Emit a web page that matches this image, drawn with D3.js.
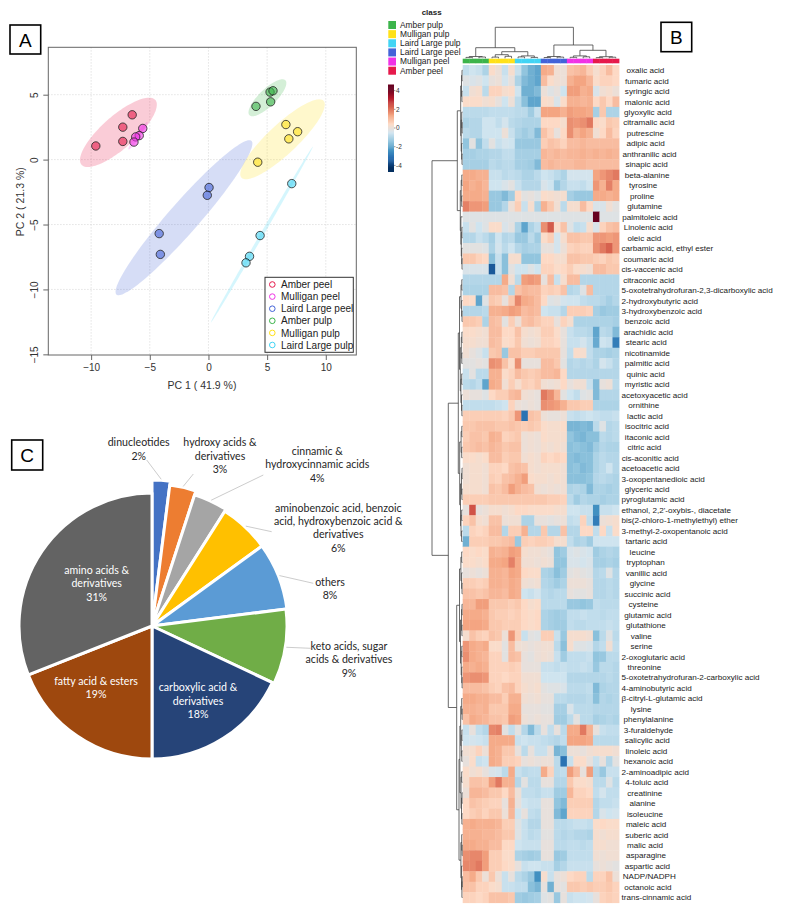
<!DOCTYPE html>
<html><head><meta charset="utf-8">
<script src="https://cdn.jsdelivr.net/npm/d3@7"></script>
<style>body{margin:0;background:#fff}svg{display:block}</style>
</head><body>
<svg id="fig" width="792" height="915"></svg>
<script>
// ================= DATA =================
// Panel A: PCA scores
const groupNames = ["Amber peel","Mulligan peel","Laird Large peel","Amber pulp","Mulligan pulp","Laird Large pulp"];
const sampleGroup = [0,0,0,0, 1,1,1,1, 2,2,2,2, 3,3,3,3, 4,4,4,4, 5,5,5,5];
const samplePC1 = [-9.6,-7.3,-6.5,-7.3, -5.6,-5.9,-6.2,-6.35, 0.05,-0.1,-4.2,-4.1, 4.05,5.3,5.25,5.5, 6.6,7.6,6.85,4.2, 7.1,4.4,3.5,3.2];
const samplePC2 = [1.05,2.5,3.45,1.4, 2.4,1.85,1.75,1.35, -2.15,-2.75,-5.7,-7.3, 4.1,4.45,5.2,5.3, 2.7,2.15,1.6,-0.2, -1.85,-5.85,-7.45,-7.95];
const pcaTicksX = [-10,-5,0,5,10];
const pcaTicksY = [5,0,-5,-10,-15];
const pc1Label = "PC 1 ( 41.9 %)";
const pc2Label = "PC 2 ( 21.3 %)";

// Panel B: heatmap
const hmClasses = ["Amber pulp","Mulligan pulp","Laird Large pulp","Laird Large peel","Mulligan peel","Amber peel"];
const hmColClass = [0,0,0,0, 1,1,1,1, 2,2,2,2, 3,3,3,3, 4,4,4,4, 5,5,5,5];
const colorbarTicks = [4,2,0,-2,-4];
const metabolites = ["oxalic acid","fumaric acid","syringic acid","malonic acid","glyoxylic acid","citramalic acid","putrescine","adipic acid","anthranilic acid","sinapic acid","beta-alanine","tyrosine","proline","glutamine","palmitoleic acid","Linolenic acid","oleic acid","carbamic acid, ethyl ester","coumaric acid","cis-vaccenic acid","citraconic acid","5-oxotetrahydrofuran-2,3-dicarboxylic acid","2-hydroxybutyric acid","3-hydroxybenzoic acid","benzoic acid","arachidic acid","stearic acid","nicotinamide","palmitic acid","quinic acid","myristic acid","acetoxyacetic acid","ornithine","lactic acid","isocitric acid","itaconic acid","citric acid","cis-aconitic acid","acetoacetic acid","3-oxopentanedioic acid","glyceric acid","pyroglutamic acid","ethanol, 2,2'-oxybis-, diacetate","bis(2-chloro-1-methylethyl) ether","3-methyl-2-oxopentanoic acid","tartaric acid","leucine","tryptophan","vanillic acid","glycine","succinic acid","cysteine","glutamic acid","glutathione","valine","serine","2-oxoglutaric acid","threonine","5-oxotetrahydrofuran-2-carboxylic acid","4-aminobutyric acid","β-citryl-L-glutamic acid","lysine","phenylalanine","3-furaldehyde","salicylic acid","linoleic acid","hexanoic acid","2-aminoadipic acid","4-toluic acid","creatinine","alanine","isoleucine","maleic acid","suberic acid","malic acid","asparagine","aspartic acid","NADP/NADPH","octanoic acid","trans-cinnamic acid"];
const heatValues = [
[-0.7,-0.5,-0.6,-1.0, 0.4,0.1,-0.6,0.3, -0.6,-1.4,-1.8,-2.0, 1.3,1.2,0.2,0.1, 0.9,1.0,1.1,0.7, 0.3,0.6,1.0,0.5],
[-0.2,-0.3,-0.2,-0.5, 0.0,0.1,-0.4,0.0, -1.0,-1.6,-1.8,-2.0, 1.0,0.4,0.2,0.1, 1.2,1.4,1.4,1.1, 0.4,0.6,0.6,0.5],
[-0.6,0.2,0.3,-0.8, 0.6,0.6,0.3,0.4, -0.5,-1.8,-1.8,-1.6, 0.1,-0.2,0.0,-0.5, 1.5,1.5,1.2,1.3, -0.3,0.2,0.3,0.1],
[0.4,0.4,0.4,0.2, 0.3,0.0,-0.5,0.1, -0.8,-1.5,-2.0,-2.0, 0.4,0.3,-0.3,0.4, 1.2,1.2,1.1,1.2, 0.5,0.8,0.5,1.0],
[-0.8,-0.8,-0.8,-0.8, -0.7,-0.7,-0.7,-0.7, -0.8,-0.8,-1.2,-0.6, 1.4,1.4,1.4,1.2, 1.5,1.4,1.4,1.3, -1.1,0.8,-1.0,-1.0],
[-1.0,-0.9,-0.9,-0.5, -0.5,-0.7,-0.4,-0.8, -0.9,-1.0,-1.0,-1.0, 0.5,0.5,0.5,0.3, 1.7,1.6,1.7,2.0, 0.5,0.4,0.8,0.7],
[-0.8,-0.9,-0.9,-0.5, -0.5,-0.5,0.1,-0.6, -1.0,-1.2,-1.0,-1.6, 0.9,0.6,0.0,0.5, 1.7,1.2,1.4,1.2, 0.2,0.5,1.0,0.6],
[-1.4,-0.1,-1.4,-0.7, -0.1,-0.6,-0.4,-0.5, -1.3,-1.3,-1.3,-1.3, 0.7,0.9,0.8,0.6, 1.0,1.0,1.1,1.0, 1.0,1.0,1.0,1.0],
[-1.1,-1.1,-1.0,-1.0, -0.9,-0.9,-0.7,-0.7, -1.1,-1.1,-1.1,-1.1, 1.1,1.0,1.1,1.0, 1.1,1.1,1.2,1.1, 1.2,1.1,1.2,1.1],
[-1.1,-1.1,-1.1,-1.1, -0.8,-0.9,-0.8,-0.8, -1.1,-1.1,-1.2,-1.6, 1.0,1.1,1.0,1.0, 1.0,1.1,1.1,1.0, 1.0,1.0,1.0,1.0],
[1.3,1.3,1.2,1.2, -0.6,-0.6,-0.8,-0.7, -0.8,-1.0,-1.0,-0.8, -0.5,-0.6,-0.8,-1.0, -0.4,-0.4,-0.4,-0.4, 1.4,1.6,1.8,2.0],
[1.4,1.2,1.3,1.1, -0.5,-0.5,-0.3,-0.1, -0.6,-0.9,-0.9,-0.9, -0.3,-0.5,-1.3,-0.9, -0.6,-0.6,-0.7,-0.5, 1.6,1.2,1.9,1.3],
[1.3,1.3,1.3,1.2, -1.3,-1.3,-1.6,-1.2, 0.5,-0.1,0.0,-0.2, 0.4,0.3,0.2,0.3, -1.1,-1.3,-1.3,-1.3, 1.3,1.3,1.2,1.3],
[1.9,1.6,1.6,1.5, -1.3,-1.3,-0.9,0.1, 0.7,-0.6,0.3,-1.0, 1.2,0.8,0.2,-0.8, 0.3,0.3,1.0,0.5, -0.3,-0.3,0.2,-0.1],
[-0.2,-0.2,-0.2,-0.2, -0.2,-0.2,-0.2,-0.2, -0.2,-0.2,-0.2,-0.2, -0.2,-0.2,-0.2,-0.2, -0.2,-0.2,-0.2,-0.2, 4.6,-0.2,-0.2,-0.2],
[-0.6,-0.1,-0.5,-0.2, 0.4,0.4,-0.3,-0.1, -1.0,-2.0,-1.0,-0.7, 1.7,2.4,0.4,0.9, -0.2,-0.7,-0.6,0.3, -0.3,0.6,0.9,1.0],
[-0.9,-0.9,-0.6,-0.8, -1.1,-0.5,-0.9,-0.8, -1.3,-1.3,-0.8,-1.2, 0.4,0.7,-0.4,0.3, 0.9,0.9,0.8,0.8, 1.6,1.6,1.5,1.6],
[-0.1,-0.1,-0.1,-0.2, -1.0,-0.4,-0.8,-0.5, -0.9,-1.1,-1.0,-1.0, 0.0,0.0,-0.4,0.1, 0.6,0.7,0.6,0.6, 1.7,2.0,2.3,1.6],
[0.8,0.8,0.6,0.5, -1.5,-0.6,-1.5,0.3, 0.3,-1.4,-1.4,-1.4, 0.5,0.5,0.3,0.3, 0.9,0.9,0.8,0.8, 0.7,0.6,0.8,0.7],
[-0.3,-0.3,-0.3,-0.3, -3.5,-0.6,-1.5,-0.1, -0.5,-0.5,-0.2,-0.5, 0.6,0.6,0.4,0.5, 0.7,0.4,0.3,0.2, 1.0,1.0,0.8,0.8],
[-0.9,-0.9,-0.9,-0.9, -0.9,-0.9,1.3,0.2, -0.8,1.5,1.6,1.5, 0.0,1.0,-0.6,0.3, 1.0,1.0,-0.9,-0.9, -0.9,-0.9,-0.9,-0.9],
[-1.0,-1.0,-1.0,-1.0, 1.0,1.0,0.9,-0.9, 0.9,1.1,1.0,1.0, 0.6,0.7,0.6,0.9, -0.9,-0.8,-0.2,1.0, -0.9,-0.9,-0.9,-0.9],
[0.5,0.4,-2.0,-0.2, 0.8,0.7,0.0,0.8, 1.8,1.3,1.2,1.0, 0.5,-0.2,-0.1,-0.4, -0.5,-0.5,-0.7,-0.8, -0.8,-0.9,-1.1,-0.9],
[-0.9,-0.9,-0.9,-0.8, 1.2,1.2,1.3,1.5, 1.4,1.0,1.1,1.0, -0.5,-0.6,-0.6,-0.9, 0.7,0.7,0.7,0.6, -1.1,-1.3,-1.2,-1.2],
[0.8,0.8,0.7,-1.0, 1.0,0.9,-0.1,0.7, 0.1,0.9,1.0,0.8, 0.6,0.6,0.0,0.6, 0.3,-1.0,-1.0,-1.0, -1.0,-1.0,-1.0,-1.1],
[0.4,0.4,0.3,0.2, 1.0,1.0,0.5,0.5, 0.9,0.3,0.2,0.3, 0.7,0.7,0.4,0.0, -0.6,-0.8,-0.8,-0.9, -2.0,-0.8,-0.9,-1.6],
[0.3,0.3,0.2,0.2, 1.0,0.9,0.4,0.5, 0.8,0.2,0.1,0.2, 0.6,0.6,0.5,0.0, -0.6,-0.6,-0.4,-0.7, -1.9,-0.5,-0.6,-2.8],
[0.2,0.0,-0.2,-0.6, 0.8,0.9,-1.3,0.9, 0.9,0.7,0.7,0.8, 0.8,0.8,0.8,0.0, -0.7,0.4,0.3,-0.7, -1.0,-1.0,-1.1,-1.0],
[-0.1,-0.1,0.0,-0.1, 1.7,1.6,0.9,0.4, 1.7,0.0,0.0,0.0, 1.0,1.0,0.8,-0.1, -0.9,-0.8,-0.9,-0.8, -1.0,-0.4,-0.6,-0.9],
[-0.6,-0.1,-0.8,-0.8, 1.2,1.2,0.4,0.6, 1.0,0.8,0.7,0.8, 1.0,1.0,1.1,0.5, -0.9,-0.9,-0.9,-0.9, -0.9,-0.9,-0.9,-0.9],
[-0.8,-0.9,-0.7,-2.0, 1.3,1.2,0.2,0.7, 0.3,0.7,0.6,0.8, 0.2,0.1,0.2,0.5, 0.0,0.2,0.2,-0.6, -1.6,0.0,0.1,-0.8],
[0.1,0.0,0.0,-0.2, 0.5,0.7,0.7,1.0, 1.1,0.2,0.1,0.0, 2.0,1.7,1.1,-0.1, -0.5,-0.7,-0.2,-0.1, -1.6,-0.9,-0.9,-0.9],
[-0.7,-0.7,-0.7,-0.7, -0.7,-0.6,-0.5,0.6, 0.1,0.0,0.1,0.0, 1.7,1.6,1.5,1.2, 0.8,0.8,0.7,0.7, -1.0,-1.0,-1.0,-1.0],
[0.7,0.7,0.7,0.7, 0.7,0.7,0.6,0.8, 1.6,-3.0,0.9,0.8, 0.1,0.0,0.0,0.1, -0.6,-0.7,-0.6,-0.5, -0.6,-0.7,-0.7,-0.6],
[0.8,0.8,0.9,0.9, 0.9,0.8,0.8,0.9, 0.8,0.7,0.8,0.7, 0.4,0.3,0.3,0.4, -1.7,-1.7,-1.6,-1.7, -0.8,-0.2,-0.9,-0.8],
[0.7,0.9,0.9,0.8, 1.2,1.1,0.6,0.7, 0.8,0.1,0.2,0.1, 0.4,0.3,0.3,0.3, -1.4,-1.6,-1.7,-1.5, -1.5,-0.8,-0.9,-0.8],
[0.8,0.9,1.0,0.9, 1.1,1.0,0.8,0.9, 0.9,0.1,0.2,0.1, 0.3,0.2,0.3,0.2, -1.5,-1.4,-1.5,-1.6, -1.2,-0.9,-1.0,-1.0],
[0.4,0.4,0.3,0.4, 1.0,1.0,0.7,0.8, 0.8,0.2,0.3,0.2, 0.6,0.5,0.6,0.5, -1.5,-1.6,-1.5,-1.5, -1.0,-0.8,-0.9,-0.9],
[0.2,0.3,0.3,0.2, 0.6,0.6,0.5,0.9, 1.0,0.9,0.3,0.2, 0.3,0.3,0.3,0.2, -1.5,-1.4,-1.6,-1.5, -1.0,-0.8,-0.5,-0.9],
[0.2,0.3,0.3,0.2, 0.7,0.6,0.9,1.0, 1.2,1.5,0.4,0.3, 0.3,0.2,0.3,0.2, -1.5,-1.5,-1.5,-1.4, -0.9,-0.8,-0.9,-1.0],
[0.3,0.3,0.3,0.2, 0.9,0.8,1.0,1.5, 1.2,1.0,0.9,0.2, 0.1,0.2,0.1,0.2, -1.0,-0.9,-1.0,-1.6, -1.0,-1.0,-1.1,-1.0],
[0.7,0.7,0.7,0.7, 0.8,0.8,0.8,0.8, 0.8,0.8,0.8,0.8, 0.8,0.7,0.7,0.6, -0.8,-1.2,-0.9,-1.0, -1.0,-1.1,-1.0,-1.0],
[0.0,2.5,0.0,0.1, 0.3,0.3,0.2,0.3, 0.5,0.5,0.4,0.4, 0.4,0.4,0.3,0.3, -0.5,-0.5,-0.6,-0.6, -2.4,-0.6,-0.6,-0.5],
[0.6,0.9,0.3,0.2, 0.9,0.9,0.1,0.2, 0.2,-1.0,-1.0,0.0, 0.0,-0.1,0.0,0.1, -0.7,-0.6,0.6,-0.7, -2.8,0.1,0.2,0.3],
[-0.8,0.6,0.5,0.6, 1.0,1.0,-0.9,0.7, 0.7,1.2,-0.9,-0.9, 0.8,-0.9,-0.9,0.9, -0.9,-0.9,0.5,0.5, -0.7,0.5,-0.6,0.4],
[-1.8,0.7,0.7,0.7, 0.8,0.8,0.9,1.0, -1.3,0.7,0.6,0.7, 0.7,0.6,0.3,0.3, -0.7,-1.0,-0.9,-1.2, -0.5,-0.5,-0.5,-0.5],
[0.5,0.4,0.5,0.4, 1.2,1.1,1.2,1.5, 1.4,0.3,0.2,0.2, 0.1,0.0,-1.4,-1.2, -0.3,-0.2,-0.3,-0.4, -1.2,-1.0,-0.9,-1.0],
[0.4,0.4,0.3,0.4, 1.3,1.3,1.4,1.9, 1.3,0.2,0.2,0.1, 0.2,0.1,-1.4,-1.4, -0.3,-0.3,-0.4,-0.3, -1.1,-1.1,-1.0,-1.1],
[0.0,0.1,0.0,0.1, 1.2,1.2,1.1,1.4, 1.3,0.5,0.4,0.4, -1.0,-1.1,-1.5,-1.2, -0.1,0.0,-0.1,-0.2, -0.9,-0.8,-0.2,-0.9],
[0.7,0.7,0.6,0.7, 1.2,1.2,1.1,1.3, 1.2,0.2,0.1,0.2, -0.9,-1.0,-1.2,-1.0, 0.1,0.1,0.1,0.0, -0.9,-0.9,-0.8,-0.9],
[0.9,0.9,0.8,0.9, 1.1,1.1,1.0,1.3, 1.2,-0.5,-0.6,-0.4, -0.8,-0.9,-0.8,-0.8, 0.0,-0.1,-0.1,0.0, -0.9,-0.9,-0.8,-0.9],
[1.1,1.1,1.5,1.5, 0.8,0.8,0.8,0.7, 0.8,0.5,0.3,0.4, -0.8,-0.8,-0.8,-0.8, -1.3,-1.3,-1.4,-1.3, -0.7,-0.8,-0.8,-0.8],
[1.3,1.3,1.3,1.2, 0.8,0.7,0.7,0.6, 0.7,0.5,0.4,0.5, -1.0,-1.1,-1.2,-1.1, -0.7,-0.7,-0.6,-0.7, -0.7,-0.8,-0.7,-0.7],
[1.4,1.4,1.4,1.3, 0.8,0.8,0.7,0.7, 0.7,0.5,0.4,0.5, -1.0,-1.1,-1.2,-1.2, -0.7,-0.8,-0.8,-0.7, -0.7,-0.7,-0.6,-0.7],
[0.3,0.9,0.7,0.6, 0.9,0.8,0.1,1.6, 0.7,-0.6,-0.1,-0.2, 0.7,0.7,-0.6,-1.3, 0.3,0.3,0.3,0.2, -1.5,-0.8,-0.2,-0.8],
[1.6,1.3,1.2,1.3, 0.4,0.4,-0.1,1.0, 0.2,0.1,0.0,0.1, 0.2,0.2,-0.8,-1.5, 0.3,-0.2,-0.2,-0.3, -0.9,-0.7,0.2,-0.7],
[1.7,1.3,1.2,1.1, 0.6,0.6,-0.1,1.0, 0.9,0.0,-0.1,0.1, 0.2,0.1,-0.6,-1.2, -0.7,-0.7,-0.7,-0.6, -1.4,-1.3,-0.8,-0.8],
[1.3,1.2,1.3,1.2, 0.6,0.6,0.6,0.7, 0.6,0.0,0.0,0.0, -0.6,-0.6,-0.7,-0.6, -0.7,-0.7,-0.6,-0.7, -1.3,-0.8,-0.8,-0.9],
[1.6,1.7,1.7,1.6, 0.6,0.6,0.5,0.6, 0.6,0.2,0.2,0.2, -0.5,-0.5,-0.5,-0.5, -0.9,-0.9,-0.9,-0.9, -0.9,-0.9,-0.8,-0.9],
[1.0,1.0,1.0,0.9, 0.7,0.6,0.9,1.0, 0.6,0.3,0.2,0.3, -0.1,-0.2,-0.2,-0.3, -0.8,-0.8,-0.8,-0.7, -1.6,-1.0,-0.9,-0.9],
[1.3,1.3,1.2,1.2, 1.0,1.0,0.7,1.2, 1.2,0.2,0.1,0.2, 0.0,0.0,-0.8,-0.8, -0.9,-0.9,-0.9,-0.8, -1.5,-0.9,-1.0,-0.9],
[1.2,1.2,1.1,1.2, 0.8,0.8,0.8,1.3, 1.3,0.0,0.0,0.0, -0.1,-0.1,-1.1,-1.1, -0.3,-0.8,-0.8,-0.8, -0.9,-0.9,-0.9,-0.9],
[0.9,1.3,1.2,1.1, 0.9,0.9,0.8,1.5, 1.4,0.1,0.0,0.1, 0.0,0.0,-1.2,-1.2, -0.8,-0.1,-0.8,-0.8, -1.1,-1.0,-0.9,-1.0],
[-0.6,0.0,-0.7,-0.9, 1.8,1.9,-0.1,-0.7, -0.1,-0.9,-1.6,-0.8, 0.0,-0.7,0.0,-0.8, 1.3,1.3,2.0,1.2, 0.0,-0.6,-0.7,-0.7],
[-0.5,-0.4,-0.5,-0.6, 1.3,1.3,1.3,1.3, -0.6,-0.5,-0.6,-0.6, -0.7,-0.8,-0.9,-0.7, 1.4,1.4,1.4,1.3, -0.8,-0.8,-0.8,-0.8],
[0.2,0.3,0.6,0.1, 1.3,1.2,0.8,0.8, 0.0,-0.8,0.0,-0.6, -0.6,0.0,-1.7,-1.5, 0.1,0.1,0.0,0.2, 0.3,0.3,0.3,0.2],
[0.0,0.4,-0.6,-0.5, 1.3,1.2,0.7,0.7, 0.6,0.0,0.1,0.0, 0.1,0.1,-0.8,-3.0, -0.6,0.4,0.4,0.0, -0.6,0.0,-0.9,-0.1],
[0.4,0.2,0.3,0.0, -0.3,-0.4,-0.8,1.3, -0.6,-0.8,-0.7,-0.7, 1.3,0.6,-0.8,-0.7, 1.5,1.0,0.0,1.5, -0.9,-1.3,-0.6,-0.6],
[0.3,0.9,0.9,0.8, 1.5,2.0,1.2,1.2, -0.9,-0.1,-0.8,-0.8, 0.0,0.0,-0.9,-0.9, 0.8,0.4,0.4,0.3, -0.8,-0.8,-0.2,-0.8],
[0.1,1.1,1.1,1.0, 0.8,0.8,0.5,1.0, 0.1,-0.7,-0.7,-0.8, -0.6,-0.6,-1.2,-1.2, 1.1,0.6,0.6,0.5, -0.7,-0.4,-0.7,-0.7],
[0.5,0.9,0.8,0.7, 0.6,0.6,0.0,1.2, 0.0,-0.5,-0.6,-0.6, 0.0,0.0,-1.4,-1.6, 0.7,0.7,0.7,0.7, -0.9,-0.7,-0.7,-0.6],
[0.5,0.7,0.8,0.6, 0.8,0.8,0.1,1.1, -0.5,0.0,-0.7,-0.8, 0.0,0.0,-1.6,-2.0, 0.6,0.6,0.6,0.6, -0.9,-0.3,-0.5,-0.4],
[1.2,1.3,1.2,1.2, 1.2,1.1,0.7,0.7, -0.2,-0.6,-0.9,-0.9, 0.0,0.0,-0.8,-0.8, -0.7,-0.6,-0.6,-0.7, 0.4,0.5,0.4,0.4],
[1.2,1.2,1.2,1.1, 1.1,1.0,0.8,0.8, -0.2,-0.6,-0.8,-0.7, -0.1,-0.1,-0.8,-0.9, -0.8,-0.9,-0.9,-1.0, 0.3,0.2,0.3,0.3],
[1.3,1.3,1.2,1.2, 1.0,1.0,0.5,0.5, -0.5,-0.6,-0.6,-0.6, 0.0,0.0,-0.8,-0.8, -0.7,-0.7,-0.8,-0.7, 0.3,0.3,0.2,0.2],
[1.7,1.8,1.8,1.5, 0.7,0.7,0.4,0.4, -1.0,-1.1,-1.2,-1.1, 0.0,0.0,-1.3,-1.2, -0.7,-0.7,-0.7,-0.7, 0.2,0.1,0.2,0.2],
[1.8,1.8,2.0,1.5, 0.7,0.7,0.5,0.4, 0.0,-0.6,-0.5,-0.5, -0.6,-0.6,-1.1,-0.9, -0.6,-0.6,-0.6,-0.6, 0.0,0.1,0.0,-0.1],
[1.0,1.3,0.8,0.1, 0.8,0.1,-0.6,0.0, -0.8,-1.0,-1.3,-2.4, 0.3,-0.6,0.0,0.1, 0.5,0.6,0.6,-0.8, 0.6,0.6,0.9,0.1],
[0.9,0.9,0.6,0.6, 0.4,0.3,-0.6,-0.6, -0.7,-0.7,-1.5,-1.7, 0.0,-1.8,0.0,-0.1, 0.8,0.8,0.7,0.8, 0.7,0.7,0.8,0.6],
[0.6,0.6,0.5,0.6, 0.9,0.9,0.9,0.8, -1.2,-1.3,-1.2,-1.1, -0.2,-0.1,-1.3,0.0, -0.6,-0.5,-0.5,-0.4, 0.0,0.6,0.7,0.6]
];
// dendrograms: node = [mergeHeight, left, right], leaf = column / row index
const colDendro = [31,
  [10.6, [1.8,[0.9,0,1],[1.3,2,3]], [6.6, [3.6,[1.2,4,5],[2.0,6,7]], [2.4,[1.4,8,9],[0.9,10,11]]]],
  [13.3, [1.8,[0.8,12,13],[1.2,14,15]], [8.0, [2.4,[1.0,16,17],[1.5,18,19]], [1.6,[0.7,20,21],[1.1,22,23]]]]
];
const rowDendro = [30.5,
  [5.2,
    [1.8,[1.0,[0.5,0,1],[0.6,2,3]],[1.3,[0.8,4,[0.4,5,6]],[0.9,7,[0.5,8,9]]]],
    [2.2,[1.3,[0.7,10,11],[0.8,12,13]],[1.6,14,[1.2,[0.6,15,16],[0.8,17,[0.5,18,19]]]]]],
  [14.2,
    [4.2,
      [3.0,[1.5,[0.7,20,21],[0.9,22,[0.5,23,24]]],[2.2,[1.2,[0.6,25,26],[0.7,27,28]],[1.6,[0.8,29,30],[1.0,31,[0.6,32,33]]]]],
      [2.8,[1.4,[0.7,34,35],[0.8,36,37]],[2.0,[1.0,[0.5,38,39],[0.6,40,41]],[1.5,[0.8,42,43],[0.9,44,45]]]]],
    [5.8,
      [3.0,[1.6,[0.8,46,47],[0.9,48,[0.5,49,50]]],[2.0,[1.0,[0.5,51,52],[0.6,53,54]],[1.3,[0.7,55,56],[0.8,57,[0.4,58,59]]]]],
      [3.5,
        [2.6,[1.8,[0.8,60,[0.4,61,62]],[1.2,[0.6,63,64],[0.7,65,66]]],[1.5,[0.8,67,68],[1.0,[0.5,69,70],[0.6,71,72]]]],
        [1.6,[0.8,73,[0.4,74,75]],[1.0,76,[0.6,[0.3,77,78],79]]]]]]
];

// Panel C: pie
const pieLabelLines = [["dinucleotides"],["hydroxy acids &","derivatives"],["cinnamic &","hydroxycinnamic acids"],["aminobenzoic acid, benzoic","acid, hydroxybenzoic acid &","derivatives"],["others"],["keto acids, sugar","acids & derivatives"],["carboxylic acid &","derivatives"],["fatty acid & esters"],["amino acids &","derivatives"]];
const piePercents = [2,3,4,6,8,9,18,19,31];

// ================= STYLE / LAYOUT =================
const groupColors = ["#e6194B","#f032e6","#4363d8","#3cb44b","#ffe119","#42d4f4"];
const hmClassColors = ["#3cb44b","#ffe119","#42d4f4","#4363d8","#f032e6","#e6194B"];
const rdbu = ["#053061","#2166ac","#4393c3","#92c5de","#d1e5f0","#fddbc7","#f4a582","#d6604d","#b2182b","#67001f"];
const pieColors = ["#4472C4","#ED7D31","#A5A5A5","#FFC000","#5B9BD5","#70AD47","#264478","#9E480E","#636363"];
const pieRadii = [146,142,138,136,136,135,133,133,133];
const pieLabelPos = [[138.7,442.3],[220,442.3],[317.3,451],[338.3,507.7],[330,581.7],[349,646],[198,687.3],[96,681],[96.7,570]];
const pieInside = [false,false,false,false,false,false,true,true,true];
const pieLeaderEnd = [[146.7,460],[193.3,474],[263.3,475],[271.7,531.7],[313.3,583.3],[310.7,648.3],null,null,null];
const ARIAL = "'Liberation Sans', Arial, sans-serif";
const PIEFONT = "Lato, 'Open Sans', sans-serif";

const svg = d3.select("#fig");

// ---------- panel letter boxes ----------
function letterBox(x, y, w, h, txt) {
  svg.append("rect").attr("x", x).attr("y", y).attr("width", w).attr("height", h)
    .attr("fill", "#fff").attr("stroke", "#000").attr("stroke-width", 1.6);
  svg.append("text").attr("x", x + w / 2).attr("y", y + h / 2 + 7).attr("text-anchor", "middle")
    .attr("font-family", ARIAL).attr("font-size", 19).attr("fill", "#000").text(txt);
}

// ================= PANEL A =================
const xS = d3.scaleLinear().domain([-13.65, 12.6]).range([48.3, 356.3]);
const yS = d3.scaleLinear().domain([-15.05, 8.65]).range([355, 47.3]);
const gA = svg.append("g");
gA.selectAll("line.gx").data(pcaTicksX).join("line")
  .attr("x1", d => xS(d)).attr("x2", d => xS(d)).attr("y1", 47.3).attr("y2", 355)
  .attr("stroke", "#d4d4d4").attr("stroke-width", 0.8).attr("stroke-dasharray", "1.2,1.8");
gA.selectAll("line.gy").data(pcaTicksY.filter(d => d > -15)).join("line")
  .attr("y1", d => yS(d)).attr("y2", d => yS(d)).attr("x1", 48.3).attr("x2", 356.3)
  .attr("stroke", "#d4d4d4").attr("stroke-width", 0.8).attr("stroke-dasharray", "1.2,1.8");

// 95% confidence ellipses from each group's scores
const CHI2 = 5.991;
groupNames.forEach((gname, gi) => {
  const idx = sampleGroup.map((g, i) => g === gi ? i : -1).filter(i => i >= 0);
  const xs = idx.map(i => samplePC1[i]), ys = idx.map(i => samplePC2[i]);
  const mx = d3.mean(xs), my = d3.mean(ys), n = xs.length;
  let a = 0, b = 0, c = 0;
  for (let k = 0; k < n; k++) { a += (xs[k]-mx)**2; b += (xs[k]-mx)*(ys[k]-my); c += (ys[k]-my)**2; }
  a /= n-1; b /= n-1; c /= n-1;
  const tr = (a + c) / 2, dd = Math.sqrt(((a - c) / 2) ** 2 + b * b);
  const l1 = tr + dd, l2 = Math.max(tr - dd, 1e-6);
  const th = 0.5 * Math.atan2(2 * b, a - c);
  const r1 = Math.sqrt(CHI2 * l1), r2 = Math.sqrt(CHI2 * l2);
  const pts = d3.range(0, 2 * Math.PI, Math.PI / 60).map(t => {
    const ex = mx + r1 * Math.cos(t) * Math.cos(th) - r2 * Math.sin(t) * Math.sin(th);
    const ey = my + r1 * Math.cos(t) * Math.sin(th) + r2 * Math.sin(t) * Math.cos(th);
    return [xS(ex), yS(ey)];
  });
  gA.append("path").attr("d", d3.line()(pts) + "Z").attr("fill", groupColors[gi]).attr("fill-opacity", 0.22).attr("stroke", "none");
});
gA.selectAll("circle.pt").data(samplePC1.map((v, i) => i)).join("circle")
  .attr("cx", i => xS(samplePC1[i])).attr("cy", i => yS(samplePC2[i])).attr("r", 4.2)
  .attr("fill", i => groupColors[sampleGroup[i]]).attr("fill-opacity", 0.6)
  .attr("stroke", "#222").attr("stroke-width", 0.8);
gA.append("rect").attr("x", 48.3).attr("y", 47.3).attr("width", 308).attr("height", 307.7)
  .attr("fill", "none").attr("stroke", "#666").attr("stroke-width", 1);
const axX = gA.append("g").attr("transform", "translate(0,355)")
  .call(d3.axisBottom(xS).tickValues(pcaTicksX).tickSize(5).tickPadding(4));
axX.select(".domain").remove();
axX.selectAll("line").attr("stroke", "#666");
axX.selectAll("text").attr("font-family", ARIAL).attr("font-size", 10).attr("fill", "#333");
const axY = gA.append("g").attr("transform", "translate(48.3,0)")
  .call(d3.axisLeft(yS).tickValues(pcaTicksY).tickSize(5).tickPadding(4));
axY.select(".domain").remove();
axY.selectAll("line").attr("stroke", "#666");
axY.selectAll("text").attr("font-family", ARIAL).attr("font-size", 10).attr("fill", "#333")
  .attr("text-anchor", "middle").attr("dy", null).attr("x", 0).attr("y", 0)
  .attr("transform", "translate(-10.6,0) rotate(-90)");
gA.append("text").attr("x", 202).attr("y", 389).attr("text-anchor", "middle")
  .attr("font-family", ARIAL).attr("font-size", 10.5).attr("fill", "#333").text(pc1Label);
gA.append("text").attr("transform", "translate(23.5,201.7) rotate(-90)").attr("text-anchor", "middle")
  .attr("font-family", ARIAL).attr("font-size", 10.5).attr("fill", "#333").text(pc2Label);
gA.append("rect").attr("x", 265).attr("y", 277.3).attr("width", 88.3).attr("height", 75)
  .attr("fill", "#fff").attr("stroke", "#333").attr("stroke-width", 1);
const legY = d3.scaleLinear().domain([0, 5]).range([284.5, 345]);
groupNames.forEach((gname, gi) => {
  gA.append("circle").attr("cx", 272.3).attr("cy", legY(gi)).attr("r", 2.8)
    .attr("fill", "none").attr("stroke", groupColors[gi]).attr("stroke-width", 1);
  gA.append("text").attr("x", 281).attr("y", legY(gi) + 3.6).attr("font-family", ARIAL)
    .attr("font-size", 10).attr("fill", "#222").text(gname);
});
letterBox(10, 25, 30.7, 29, "A");

// ================= PANEL B =================
const gB = svg.append("g");
const hx = d3.scaleBand().domain(d3.range(24)).range([462.7, 619]);
const hy = d3.scaleBand().domain(d3.range(80)).range([65, 902.7]);
const colorStops = d3.range(rdbu.length).map(i => -4.2 + i * 8.4 / (rdbu.length - 1));
const hc = d3.scaleLinear().domain(colorStops).range(rdbu).clamp(true);
heatValues.forEach((row, r) => {
  gB.selectAll(null).data(row).join("rect")
    .attr("x", (v, j) => hx(j)).attr("y", hy(r))
    .attr("width", hx.bandwidth() + 0.4).attr("height", hy.bandwidth() + 0.4)
    .attr("fill", v => hc(v));
});
gB.selectAll("rect.cls").data(hmColClass).join("rect")
  .attr("x", (c, j) => hx(j)).attr("y", 58.7).attr("width", hx.bandwidth() + 0.4).attr("height", 4.6)
  .attr("fill", c => hmClassColors[c]);
gB.selectAll("text.rl").data(metabolites).join("text")
  .attr("x", 624.5).attr("y", (d, i) => hy(i) + hy.bandwidth() / 2 + 2.9)
  .attr("font-family", ARIAL).attr("font-size", 8.1).attr("fill", "#222").text(d => d)
  .each(function () {
    const len = this.getComputedTextLength();
    d3.select(this).attr("x", Math.max(621.5, 636 - 0.25 * len));
  });
function drawTree(node, leafPos, hScale, vertical, g) {
  if (typeof node === "number") return [leafPos(node), 0];
  const [h, a, b] = node;
  const A = drawTree(a, leafPos, hScale, vertical, g);
  const B = drawTree(b, leafPos, hScale, vertical, g);
  const d = vertical
    ? `M${A[0]},${hScale(A[1])}V${hScale(h)}H${B[0]}V${hScale(B[1])}`
    : `M${hScale(A[1])},${A[0]}H${hScale(h)}V${B[0]}H${hScale(B[1])}`;
  g.append("path").attr("d", d).attr("fill", "none").attr("stroke", "#444").attr("stroke-width", 0.8);
  return [(A[0] + B[0]) / 2, h];
}
const colH = d3.scaleLinear().domain([0, 31]).range([58.3, 27.3]);
drawTree(colDendro, j => hx(j) + hx.bandwidth() / 2, colH, true, gB);
const rowH = d3.scaleLinear().domain([0, 30.5]).range([462.5, 432]);
drawTree(rowDendro, i => hy(i) + hy.bandwidth() / 2, rowH, false, gB);
gB.append("text").attr("x", 431.7).attr("y", 15).attr("text-anchor", "middle")
  .attr("font-family", ARIAL).attr("font-size", 8).attr("font-weight", "bold").attr("fill", "#222").text("class");
const clsY = d3.scaleLinear().domain([0, 5]).range([21, 66.7]);
hmClasses.forEach((c, i) => {
  gB.append("rect").attr("x", 388.3).attr("y", clsY(i)).attr("width", 7.7).attr("height", 8).attr("fill", hmClassColors[i]);
  gB.append("text").attr("x", 400).attr("y", clsY(i) + 6.8).attr("font-family", ARIAL)
    .attr("font-size", 8.4).attr("fill", "#222").text(c);
});
// colorbar
const cbY = d3.scaleLinear().domain([4.6, -4.6]).range([85, 171]);
const cbVals = d3.range(-4.6, 4.61, 0.1);
gB.selectAll("rect.cb").data(cbVals).join("rect")
  .attr("x", 388).attr("y", v => cbY(v) - 0.5).attr("width", 6).attr("height", 1.5).attr("fill", v => hc(v));
colorbarTicks.forEach(t => {
  gB.append("line").attr("x1", 394).attr("x2", 395.5).attr("y1", cbY(t)).attr("y2", cbY(t)).attr("stroke", "#555").attr("stroke-width", 0.6);
  gB.append("text").attr("x", 396).attr("y", cbY(t) + 2.3).attr("font-family", ARIAL)
    .attr("font-size", 6.5).attr("fill", "#333").text(t);
});
letterBox(661, 22.3, 30.7, 29.4, "B");

// ================= PANEL C =================
const gC = svg.append("g").attr("transform", "translate(152,626)");
const pieData = d3.pie().sort(null).value(d => d)(piePercents);
gC.selectAll("path.sl").data(pieData).join("path")
  .attr("d", (d, i) => d3.arc().innerRadius(0).outerRadius(pieRadii[i])(d))
  .attr("fill", (d, i) => pieColors[i]).attr("stroke", "#fff").attr("stroke-width", 3).attr("stroke-linejoin", "round");
pieData.forEach((d, i) => {
  const lines = pieLabelLines[i].concat([piePercents[i] + "%"]);
  const [lx, ly] = pieLabelPos[i];
  if (pieLeaderEnd[i]) {
    const mid = (d.startAngle + d.endAngle) / 2;
    const sx = 152 + (pieRadii[i] + 1) * Math.sin(mid), sy = 626 - (pieRadii[i] + 1) * Math.cos(mid);
    svg.append("line").attr("x1", sx).attr("y1", sy).attr("x2", pieLeaderEnd[i][0]).attr("y2", pieLeaderEnd[i][1])
      .attr("stroke", "#bfbfbf").attr("stroke-width", 0.8);
  }
  lines.forEach((t, k) => {
    svg.append("text").attr("x", lx).attr("y", ly + k * 13.4 + 3.8).attr("text-anchor", "middle")
      .attr("font-family", PIEFONT).attr("font-size", 10.6)
      .attr("fill", pieInside[i] ? "#fff" : "#262626").text(t);
  });
});
letterBox(11.7, 440, 31, 30, "C");
</script>
</body></html>
